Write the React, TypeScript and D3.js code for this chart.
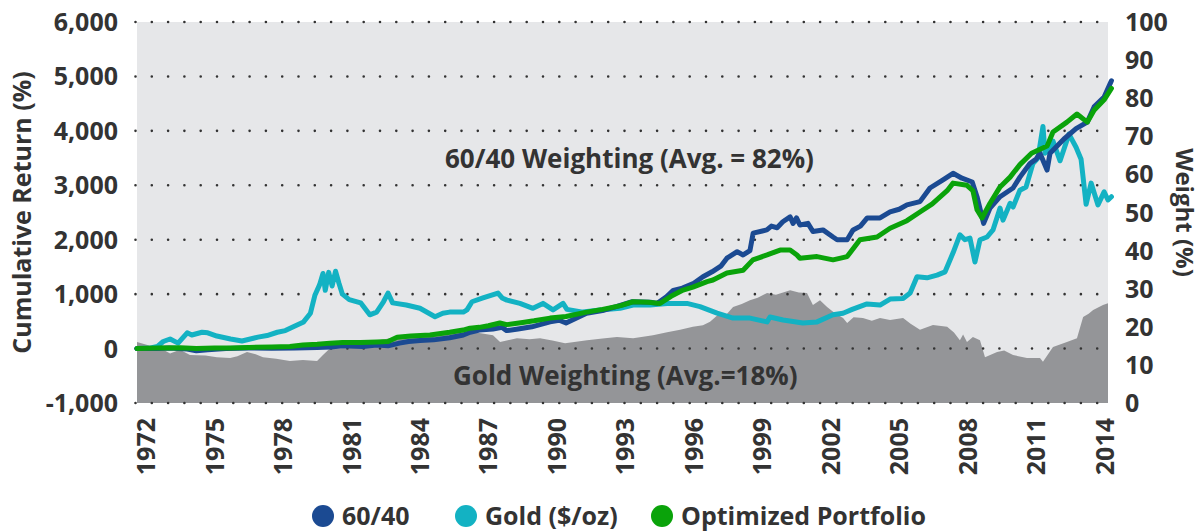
import React from 'react';
import * as d3 from 'd3';

// cumulative returns (%), [decimal year, value]
const sixtyForty: [number, number][] = [
  [1971.6, 0], [1972.5, 0], [1973.0, 10], [1973.8, -10], [1974.2, -40], [1974.7, -20],
  [1975.5, 0], [1976.5, 10], [1977.5, 5], [1978.5, 10], [1979.5, 20], [1980.1, 30],
  [1980.6, 50], [1981.5, 40], [1982.1, 65], [1982.6, 50], [1983.1, 100], [1983.5, 130],
  [1984.0, 150], [1984.6, 160], [1985.3, 200], [1985.9, 250], [1986.2, 300], [1986.6, 340],
  [1987.2, 360], [1987.6, 390], [1987.8, 330], [1988.3, 360], [1988.9, 400], [1989.7, 490],
  [1990.1, 520], [1990.4, 470], [1991.3, 650], [1992.0, 700], [1992.6, 770], [1993.3, 860],
  [1994.1, 850], [1994.4, 830], [1994.8, 950], [1995.1, 1070], [1995.5, 1110], [1996.0, 1200],
  [1996.4, 1320], [1996.8, 1410], [1997.2, 1520], [1997.45, 1660], [1997.9, 1780], [1998.16, 1720],
  [1998.46, 1800], [1998.6, 2120], [1999.2, 2180], [1999.4, 2250], [1999.65, 2220], [1999.9, 2330],
  [2000.22, 2420], [2000.35, 2300], [2000.5, 2400], [2000.65, 2270], [2001.0, 2300], [2001.22, 2150],
  [2001.66, 2180], [2002.1, 2050], [2002.28, 2000], [2002.72, 2000], [2002.98, 2180], [2003.3, 2250],
  [2003.6, 2400], [2004.16, 2400], [2004.6, 2510], [2005.0, 2560], [2005.34, 2640], [2005.91, 2700],
  [2006.35, 2950], [2006.92, 3100], [2007.36, 3220], [2007.75, 3130], [2008.2, 3060], [2008.41, 2790],
  [2008.7, 2300], [2008.98, 2580], [2009.42, 2790], [2009.99, 2950], [2010.29, 3150], [2010.73, 3400],
  [2011.0, 3480], [2011.17, 3590], [2011.48, 3280], [2011.61, 3590], [2012.22, 3850], [2012.75, 4040],
  [2013.24, 4160], [2013.54, 4440], [2013.98, 4620], [2014.3, 4920],
];

const goldPrice: [number, number][] = [
  [1971.6, 0], [1972.2, 10], [1972.5, 40], [1972.75, 130], [1973.05, 176], [1973.4, 100],
  [1973.8, 290], [1974.0, 250], [1974.45, 300], [1974.7, 290], [1975.1, 230], [1975.7, 175],
  [1976.2, 140], [1976.9, 210], [1977.3, 240], [1977.75, 300], [1978.1, 330], [1978.45, 400],
  [1978.9, 490], [1979.2, 650], [1979.4, 985], [1979.6, 1170], [1979.75, 1380], [1979.85, 1070],
  [1980.0, 1400], [1980.15, 1150], [1980.3, 1420], [1980.45, 1200], [1980.6, 1000], [1980.9, 900],
  [1981.4, 840], [1981.8, 620], [1982.1, 670], [1982.4, 860], [1982.6, 1020], [1982.8, 840],
  [1983.4, 800], [1984.0, 740], [1984.66, 585], [1985.0, 650], [1985.3, 670], [1985.9, 670],
  [1986.06, 710], [1986.28, 860], [1986.76, 930], [1987.42, 1020], [1987.6, 930], [1987.81, 890],
  [1988.38, 830], [1988.95, 740], [1989.39, 830], [1989.83, 710], [1990.27, 830], [1990.44, 720],
  [1991.14, 670], [1991.89, 710], [1992.77, 740], [1993.34, 800], [1994.08, 800], [1994.83, 830],
  [1995.7, 830], [1996.27, 770], [1997.02, 650], [1997.72, 560], [1998.46, 560], [1999.21, 490],
  [1999.34, 580], [1999.91, 525], [2000.78, 470], [2001.4, 490], [2002.1, 620], [2002.54, 650],
  [2002.94, 720], [2003.59, 820], [2004.16, 800], [2004.6, 910], [2005.17, 920], [2005.48, 1020],
  [2005.78, 1320], [2006.22, 1300], [2006.66, 1350], [2007.01, 1410], [2007.36, 1760], [2007.66, 2090],
  [2007.88, 2000], [2008.1, 2030], [2008.32, 1590], [2008.54, 2000], [2008.85, 2050], [2009.11, 2180],
  [2009.42, 2580], [2009.55, 2360], [2009.86, 2670], [2009.99, 2600], [2010.29, 2910], [2010.56, 2970],
  [2010.86, 3400], [2011.08, 3500], [2011.3, 4080], [2011.39, 3590], [2011.61, 3670], [2011.74, 3810],
  [2012.05, 3450], [2012.44, 3940], [2012.75, 3700], [2012.97, 3480], [2013.19, 2650], [2013.41, 3040],
  [2013.71, 2640], [2013.98, 2880], [2014.15, 2730], [2014.3, 2790],
];

const optimized: [number, number][] = [
  [1971.6, 0], [1972.5, 10], [1973.5, 15], [1974.2, 0], [1975.0, 10], [1975.7, 10],
  [1976.5, 20], [1977.5, 30], [1978.3, 40], [1978.87, 65], [1979.5, 80], [1980.06, 100],
  [1980.6, 110], [1981.4, 110], [1982.12, 120], [1982.6, 130], [1983.0, 210], [1983.6, 230],
  [1984.44, 250], [1985.3, 300], [1985.89, 340], [1986.19, 375], [1986.6, 390], [1987.0, 420],
  [1987.5, 470], [1987.8, 440], [1988.5, 480], [1989.0, 510], [1989.7, 560], [1990.4, 590],
  [1991.3, 670], [1992.0, 720], [1992.8, 790], [1993.34, 860], [1994.0, 850], [1994.52, 830],
  [1995.0, 960], [1995.53, 1075], [1995.96, 1130], [1996.58, 1230], [1996.84, 1260], [1997.45, 1390],
  [1998.16, 1440], [1998.59, 1630], [1999.21, 1720], [1999.78, 1810], [2000.22, 1810], [2000.52, 1720],
  [2000.65, 1660], [2001.4, 1690], [2002.1, 1630], [2002.72, 1690], [2003.28, 2000], [2004.03, 2050],
  [2004.6, 2210], [2005.34, 2350], [2005.91, 2510], [2006.45, 2660], [2007.1, 2900], [2007.36, 3040],
  [2007.97, 3000], [2008.23, 2900], [2008.41, 2550], [2008.63, 2400], [2008.98, 2670], [2009.42, 2970],
  [2009.86, 3150], [2010.29, 3380], [2010.8, 3590], [2011.48, 3720], [2011.74, 3980], [2012.35, 4160],
  [2012.79, 4310], [2013.24, 4160], [2013.54, 4380], [2013.98, 4570], [2014.3, 4780],
];

// gold weighting (%), right axis
const goldWeight: [number, number][] = [
  [1971.6, 16], [1972.17, 15], [1972.6, 14.5], [1973.05, 13], [1973.48, 14], [1973.92, 12.6],
  [1974.6, 12.5], [1975.1, 12], [1975.68, 11.8], [1976.0, 12.3], [1976.42, 13.4], [1976.8, 12.8],
  [1977.12, 12], [1977.7, 11.6], [1978.3, 11], [1978.87, 11.3], [1979.49, 11], [1979.75, 12.6],
  [1980.06, 14.4], [1980.8, 14.4], [1981.5, 16], [1982.2, 16.5], [1982.99, 17.3], [1983.7, 17.8],
  [1984.44, 18.4], [1985.2, 18.2], [1985.89, 18.6], [1986.6, 18.4], [1987.2, 17.8], [1987.51, 16],
  [1988.25, 17], [1988.8, 16.7], [1989.26, 17], [1989.8, 16.4], [1990.36, 15.7], [1991.32, 16.5],
  [1992.0, 16.9], [1992.63, 17.3], [1993.34, 17], [1994.21, 17.8], [1994.83, 18.6], [1995.4, 19.2],
  [1995.96, 20], [1996.4, 20.4], [1996.71, 21.3], [1997.15, 23.6], [1997.4, 23], [1997.72, 25.2],
  [1998.1, 26], [1998.46, 27], [1998.8, 27.6], [1999.21, 28.9], [1999.6, 28.4], [2000.22, 29.6],
  [2000.6, 29], [2000.96, 28.9], [2001.22, 25.7], [2001.53, 27], [2001.84, 25.2], [2002.2, 23.5],
  [2002.54, 22.3], [2002.72, 21], [2003.0, 22.5], [2003.41, 22.3], [2003.8, 21.6], [2004.16, 22.3],
  [2004.6, 21.8], [2005.17, 22.3], [2005.5, 20.8], [2005.91, 19.2], [2006.48, 20.5], [2007.1, 20],
  [2007.4, 18.5], [2007.66, 16.5], [2007.8, 18], [2007.97, 16], [2008.23, 17.3], [2008.54, 16.5],
  [2008.76, 12], [2009.29, 13.4], [2009.6, 13.8], [2009.99, 12.6], [2010.6, 11.8], [2011.17, 11.8],
  [2011.3, 10.8], [2011.74, 14.7], [2012.35, 16], [2012.79, 17], [2013.06, 22.6], [2013.3, 23.4],
  [2013.5, 24.4], [2013.93, 25.7], [2014.15, 26.2],
];

const leftTicks = [-1000, 0, 1000, 2000, 3000, 4000, 5000, 6000];
const rightTicks = [0, 10, 20, 30, 40, 50, 60, 70, 80, 90, 100];
const yearTicks = [1972, 1975, 1978, 1981, 1984, 1987, 1990, 1993, 1996, 1999, 2002, 2005, 2008, 2011, 2014];

const seriesNames = ['60/40', 'Gold ($/oz)', 'Optimized Portfolio'];
const seriesColors = ['#1b4a92', '#13b2c3', '#0aa30a'];

const FONT = "'Open Sans', sans-serif";
const TEXT = '#333333';

// hyphen instead of the unicode minus, like the original
const fmt = (v: number) => d3.format(',')(v).replace('\u2212', '-');

export default function App() {
  const W = 1202;
  const H = 531;
  const left = 137;
  const right = 1108;
  const top = 22;
  const bottom = 403;

  const x = d3.scaleLinear().domain([1971.6, 2014.15]).range([left, right]);
  const y = d3.scaleLinear().domain([-1000, 6000]).range([bottom, top]);
  const yR = d3.scaleLinear().domain([0, 100]).range([bottom, top]);

  const line = d3.line<[number, number]>().x((d) => x(d[0])).y((d) => y(d[1]));
  const area = d3
    .area<[number, number]>()
    .x((d) => x(d[0]))
    .y0(bottom)
    .y1((d) => yR(d[1]));

  // gold drawn first, the optimized portfolio on top
  const lines = [goldPrice, sixtyForty, optimized];
  const lineColors = [seriesColors[1], seriesColors[0], seriesColors[2]];

  const legendX = [323, 466, 662];

  return (
    <svg width={W} height={H} style={{ position: 'absolute', left: 0, top: 0 }} fontFamily={FONT}>
      <rect x={0} y={0} width={W} height={H} fill="#ffffff" />
      <rect x={left} y={top} width={right - left} height={bottom - top} fill="#e6e7e9" />
      <path d={area(goldWeight) ?? ''} fill="#949598" />

      {leftTicks.map((t) => (
        <line
          key={t}
          x1={135.5}
          x2={1100}
          y1={y(t)}
          y2={y(t)}
          stroke="#333"
          strokeWidth={2.6}
          strokeLinecap="round"
          strokeDasharray="0 16.3"
        />
      ))}

      <text x={445} y={168} fontSize={26} fontWeight={700} fill={TEXT}>
        60/40 Weighting (Avg. = 82%)
      </text>
      <text x={453} y={385} fontSize={26} fontWeight={700} fill={TEXT}>
        Gold Weighting (Avg.=18%)
      </text>

      {lines.map((s, i) => (
        <path
          key={i}
          d={line(s) ?? ''}
          fill="none"
          stroke={lineColors[i]}
          strokeWidth={5}
          strokeLinejoin="round"
          strokeLinecap="round"
        />
      ))}

      {leftTicks.map((t) => (
        <text
          key={t}
          x={118}
          y={y(t)}
          dy="0.36em"
          textAnchor="end"
          fontSize={25}
          fontWeight={700}
          fill={TEXT}
        >
          {fmt(t)}
        </text>
      ))}

      {rightTicks.map((t) => (
        <text key={t} x={1125} y={yR(t)} dy="0.36em" fontSize={25} fontWeight={700} fill={TEXT}>
          {t}
        </text>
      ))}

      {yearTicks.map((t) => (
        <text
          key={t}
          transform={`translate(${x(t) + 9},418) rotate(-90)`}
          textAnchor="end"
          fontSize={25}
          fontWeight={700}
          fill={TEXT}
        >
          {t}
        </text>
      ))}

      <text
        transform={`translate(31,${(top + bottom) / 2}) rotate(-90)`}
        textAnchor="middle"
        fontSize={25}
        fontWeight={700}
        fill={TEXT}
      >
        Cumulative Return (%)
      </text>
      <text
        transform={`translate(1176,${(top + bottom) / 2}) rotate(90)`}
        textAnchor="middle"
        fontSize={24}
        fontWeight={700}
        fill={TEXT}
      >
        Weight (%)
      </text>

      {seriesNames.map((n, i) => (
        <g key={n} transform={`translate(${legendX[i]},516)`}>
          <circle r={11} fill={seriesColors[i]} />
          <text x={19} dy="0.36em" fontSize={25} fontWeight={700} fill={TEXT}>
            {n}
          </text>
        </g>
      ))}
    </svg>
  );
}
